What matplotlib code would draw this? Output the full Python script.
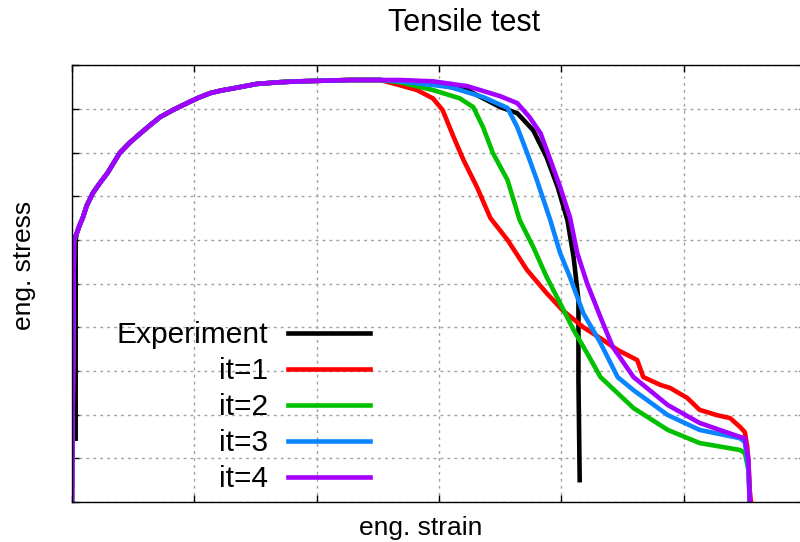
import matplotlib
matplotlib.use("Agg")
import matplotlib.pyplot as plt
import matplotlib.ticker as ticker

plt.rcParams['font.family'] = ['Liberation Sans', 'DejaVu Sans']

# shared elastic rise + hardening part (strain, stress), arbitrary units
base_strain = [0.0, 0.016, 0.04, 0.06, 0.09, 0.12, 0.17, 0.23, 0.29, 0.39, 0.47, 0.56, 0.64, 0.72,
               0.83, 0.94, 1.03, 1.13, 1.22, 1.32, 1.51, 1.70, 1.86, 2.27, 2.52]
base_stress = [0.0, 6.0, 6.16, 6.32, 6.52, 6.78, 7.07, 7.31, 7.53, 7.99, 8.22, 8.44, 8.63, 8.81,
               8.98, 9.13, 9.25, 9.36, 9.42, 9.47, 9.57, 9.61, 9.63, 9.66, 9.66]

# softening tails
exp_strain = [2.68, 2.95, 3.23, 3.50, 3.64, 3.77, 3.88, 3.97, 4.05, 4.10, 4.14, 4.14, 4.15]
exp_stress = [9.61, 9.57, 9.43, 9.04, 8.90, 8.51, 7.89, 7.21, 6.45, 5.61, 4.62, 2.79, 0.5]

it1_strain = [2.68, 2.82, 2.95, 3.03, 3.12, 3.20, 3.31, 3.42, 3.56, 3.72, 3.88, 4.01, 4.18, 4.34, 4.46,
              4.62, 4.67, 4.81, 4.89, 5.03, 5.13, 5.27, 5.38, 5.46, 5.50, 5.52, 5.53, 5.54, 5.55]
it1_stress = [9.54, 9.43, 9.24, 8.97, 8.35, 7.83, 7.21, 6.50, 6.00, 5.31, 4.78, 4.39, 4.00, 3.71, 3.48,
              3.25, 2.86, 2.68, 2.61, 2.38, 2.11, 1.99, 1.92, 1.72, 1.60, 1.26, 0.89, 0.27, 0.0]

it2_strain = [2.68, 2.95, 3.17, 3.28, 3.36, 3.44, 3.56, 3.66, 3.77, 3.88, 3.99, 4.10, 4.21, 4.32,
              4.59, 4.87, 5.13, 5.46, 5.50, 5.53, 5.54]
it2_stress = [9.61, 9.43, 9.24, 9.04, 8.58, 7.99, 7.37, 6.45, 5.84, 5.15, 4.55, 3.94, 3.41, 2.86,
              2.15, 1.65, 1.35, 1.19, 1.12, 0.73, 0.0]

it3_strain = [2.68, 3.09, 3.36, 3.56, 3.64, 3.72, 3.80, 3.91, 3.99, 4.07, 4.18, 4.32, 4.46, 4.59,
              4.87, 5.13, 5.46, 5.50, 5.53, 5.54]
it3_stress = [9.63, 9.50, 9.27, 9.02, 8.58, 7.99, 7.37, 6.45, 5.70, 5.15, 4.32, 3.64, 2.86, 2.56,
              1.99, 1.65, 1.46, 1.37, 0.73, 0.0]

it4_strain = [2.68, 2.95, 3.23, 3.50, 3.64, 3.74, 3.83, 3.91, 3.99, 4.07, 4.13, 4.21, 4.32, 4.42,
              4.59, 4.87, 5.13, 5.46, 5.50, 5.53, 5.54]
it4_stress = [9.66, 9.63, 9.52, 9.29, 9.13, 8.81, 8.44, 7.83, 7.21, 6.52, 5.70, 5.01, 4.23, 3.55,
              2.86, 2.22, 1.81, 1.49, 1.46, 0.96, 0.0]

# experiment starts a little off the origin
exp_start_strain = [0.03, 0.03]
exp_start_stress = [1.45, 6.0]

series = [
    ('Experiment', exp_start_strain + base_strain[2:] + exp_strain,
     exp_start_stress + base_stress[2:] + exp_stress, 'black'),
    ('it=1', base_strain + it1_strain, base_stress + it1_stress, '#ff0000'),
    ('it=2', base_strain + it2_strain, base_stress + it2_stress, '#00c000'),
    ('it=3', base_strain + it3_strain, base_stress + it3_stress, '#0a84ff'),
    ('it=4', base_strain + it4_strain, base_stress + it4_stress, '#a300ff'),
]

fig = plt.figure(figsize=(8, 5.42), dpi=100)
ax = fig.add_axes([0.09, 0.0738, 0.9175, 0.806])

for label, xs, ys, col in series:
    ax.plot(xs, ys, color=col, linewidth=3.3, label=label, solid_joinstyle='round')

ax.set_xlim(0, 6)
ax.set_ylim(0, 10)
ax.xaxis.set_major_locator(ticker.MultipleLocator(1))
ax.yaxis.set_major_locator(ticker.MultipleLocator(1))
ax.tick_params(direction='in', length=5, width=1, top=True, right=True,
               labelbottom=False, labelleft=False)
ax.grid(True, color='#a0a0a0', linestyle=(0, (2, 3)), linewidth=1)
for sp in ax.spines.values():
    sp.set_linewidth(1)

leg = ax.legend(loc='lower right', bbox_to_anchor=(0.406, 0.02), frameon=False,
                markerfirst=False, fontsize=21.5, handlelength=2.74, handletextpad=0.67,
                labelspacing=0.27, borderpad=0, borderaxespad=0)
# right-align labels like gnuplot's key
for col in leg._legend_handle_box.get_children():
    col.align = 'right'

fig.text(0.58, 0.957, 'Tensile test', ha='center', va='center', fontsize=22)
fig.text(0.526, 0.026, 'eng. strain', ha='center', va='center', fontsize=19)
fig.text(0.03, 0.511, 'eng. stress', ha='center', va='center', rotation=90, fontsize=19)

fig.savefig('out.png', dpi=100)
